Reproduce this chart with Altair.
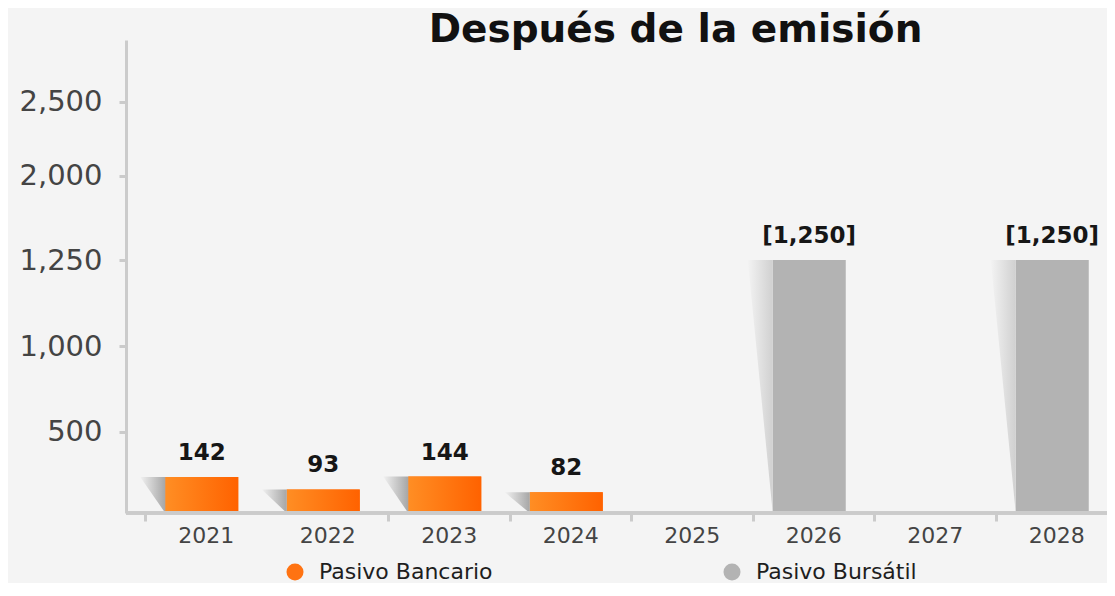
import altair as alt
import pandas as pd

# ---- data ----
years = ["2021", "2022", "2023", "2024", "2025", "2026", "2027", "2028"]
bancario = [142, 93, 144, 82, None, None, None, None]
bursatil = [None, None, None, None, None, 1250, None, 1250]
bancario_labels = ["142", "93", "144", "82"]
bursatil_labels = ["[1,250]", "[1,250]"]
series = ["Pasivo Bancario", "Pasivo Bursátil"]
y_ticks = [500, 1000, 1250, 2000, 2500]

# ---- long table ----
rows = []
bi = 0
ui = 0
for k, yr in enumerate(years):
    if bancario[k] is not None:
        rows.append(dict(year=yr, idx=k, serie=series[0], valor=bancario[k], etiqueta=bancario_labels[bi]))
        bi += 1
    if bursatil[k] is not None:
        rows.append(dict(year=yr, idx=k, serie=series[1], valor=bursatil[k], etiqueta=bursatil_labels[ui]))
        ui += 1
df = pd.DataFrame(rows)

# ---- styling constants ----
W, H = 981, 473
STEP = 121.5
X0 = 19
BAR_W = 73
BAR_SHIFT = -4
bar_left_u = (STEP / 2 + BAR_SHIFT - BAR_W / 2) / STEP
shadow_left_u = bar_left_u - 25 / STEP

# shadow triangles (derived from the bars)
srows = []
for r in rows:
    srows.append(dict(sid=r["year"], serie=r["serie"], sx=r["idx"] + shadow_left_u, sy=r["valor"], sy2=r["valor"]))
    srows.append(dict(sid=r["year"], serie=r["serie"], sx=r["idx"] + bar_left_u, sy=r["valor"], sy2=0))
sdf = pd.DataFrame(srows)

# piecewise y scale (the reference axis is not linear)
y_knots = [0, 150, 500, 1000, 1250, 2000, 2500, 2900]
y_pix = [H, H - 38, H - 81.5, H - 167, H - 253, H - 337.5, H - 411.5, 0]
y_scale = alt.Scale(domain=y_knots, range=y_pix, nice=False, zero=True)
y_axis = alt.Axis(
    title=None, values=y_ticks, format=",d", labelFont="DejaVu Sans", labelFontSize=29,
    labelColor="#444444", labelPadding=17, tickSize=7, tickWidth=3, tickColor="#cbcbcb",
    domainColor="#cbcbcb", domainWidth=3, grid=False,
)

x_scale = alt.Scale(domain=years, range=[X0, X0 + STEP * len(years)], paddingInner=0, paddingOuter=0)
x_axis = alt.Axis(
    title=None, labelAngle=0, labelFont="DejaVu Sans", labelFontSize=22, labelColor="#444444",
    labelPadding=4, tickSize=8, tickWidth=3, tickColor="#cbcbcb", tickBand="extent", domain=False,
    tickOpacity=alt.condition("datum.value === '2021'", alt.value(0), alt.value(1)),
)

base = alt.Chart(df)

bars = base.mark_bar(width=BAR_W, xOffset=BAR_SHIFT).encode(
    x=alt.X("year:N", scale=x_scale, axis=x_axis, sort=years),
    y=alt.Y("valor:Q", scale=y_scale, axis=y_axis),
    color=alt.Color(
        "serie:N",
        scale=alt.Scale(domain=series, range=["#ff7312", "#b3b3b3"]),
        legend=alt.Legend(
            title=None, orient="none", legendX=158, legendY=521, direction="horizontal",
            symbolType="circle", symbolSize=290, symbolStrokeWidth=0, labelFont="DejaVu Sans",
            labelFontSize=22, labelColor="#1e1e1e", labelOffset=13, labelLimit=400,
            columnPadding=228,
        ),
    ),
)

orange_grad = alt.Gradient(
    gradient="linear",
    stops=[alt.GradientStop(color="#ff8e24", offset=0), alt.GradientStop(color="#ff6200", offset=1)],
    x1=0, x2=1, y1=0, y2=0,
)
bars_orange = base.mark_bar(width=BAR_W, xOffset=BAR_SHIFT, color=orange_grad).encode(
    x=alt.X("year:N", scale=x_scale, axis=x_axis, sort=years),
    y=alt.Y("valor:Q", scale=y_scale, axis=y_axis),
).transform_filter(alt.datum.serie == series[0])

labels = base.mark_text(
    font="DejaVu Sans", fontWeight="bold", fontSize=23, color="#161616", dy=-12,
    baseline="bottom", xOffset=BAR_SHIFT,
).encode(
    x=alt.X("year:N", scale=x_scale, axis=x_axis, sort=years),
    y=alt.Y("valor:Q", scale=y_scale, axis=y_axis),
    text="etiqueta:N",
)

main = alt.layer(bars, bars_orange, labels)

sx_scale = alt.Scale(domain=[0, len(years)], range=[X0, X0 + STEP * len(years)], nice=False, zero=False)

shadow_grad_o = alt.Gradient(
    gradient="linear",
    stops=[alt.GradientStop(color="#f1f1f1", offset=0), alt.GradientStop(color="#a6a6a6", offset=1)],
    x1=0, x2=1, y1=0, y2=0,
)
shadow_grad_g = alt.Gradient(
    gradient="linear",
    stops=[alt.GradientStop(color="#f3f3f3", offset=0), alt.GradientStop(color="#d0d0d0", offset=1)],
    x1=0, x2=1, y1=0, y2=0,
)
shadows_o = alt.Chart(sdf).mark_area(color=shadow_grad_o).encode(
    x=alt.X("sx:Q", scale=sx_scale, axis=None),
    y=alt.Y("sy:Q", scale=y_scale, axis=y_axis),
    y2="sy2:Q",
    detail="sid:N",
).transform_filter(alt.datum.serie == series[0])
shadows_g = alt.Chart(sdf).mark_area(color=shadow_grad_g).encode(
    x=alt.X("sx:Q", scale=sx_scale, axis=None),
    y=alt.Y("sy:Q", scale=y_scale, axis=y_axis),
    y2="sy2:Q",
    detail="sid:N",
).transform_filter(alt.datum.serie == series[1])
shadows = alt.layer(shadows_o, shadows_g)

baseline = alt.Chart(df).mark_rule(color="#cbcbcb", strokeWidth=3).encode(
    y=alt.Y(datum=0, scale=y_scale, axis=y_axis),
)

chart = alt.layer(main, shadows, baseline).resolve_scale(
    x="independent"
).properties(
    width=W,
    height=H,
    title=alt.TitleParams(
        "Después de la emisión", font="DejaVu Sans", fontSize=39, fontWeight="bold",
        color="#111111", anchor="middle", dx=59, dy=14, offset=4,
    ),
    autosize=alt.AutoSizeParams(type="none"),
    padding={"left": 118, "top": 32, "right": 0, "bottom": 70},
).configure(background="#f4f4f4").configure_view(stroke=None)

chart.save("out.html", embed_options={"renderer": "svg", "actions": False})
